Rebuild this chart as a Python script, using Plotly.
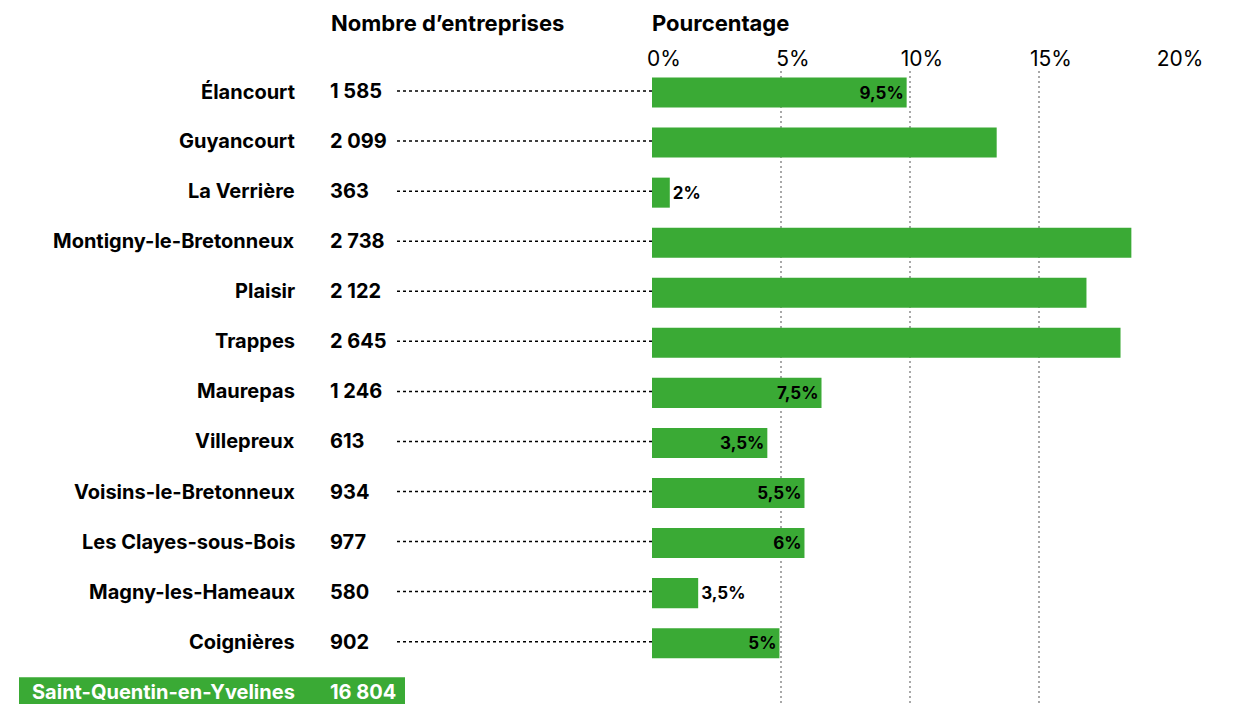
import plotly.graph_objects as go

# Données
communes = ["Élancourt", "Guyancourt", "La Verrière", "Montigny-le-Bretonneux",
            "Plaisir", "Trappes", "Maurepas", "Villepreux",
            "Voisins-le-Bretonneux", "Les Clayes-sous-Bois",
            "Magny-les-Hameaux", "Coignières"]
entreprises = ["1 585", "2 099", "363", "2 738", "2 122", "2 645",
               "1 246", "613", "934", "977", "580", "902"]
pourcentage = [9.87, 13.36, 0.69, 18.58, 16.84, 18.16,
               6.57, 4.47, 5.91, 5.91, 1.79, 4.94]
etiquettes = ["9,5%", "", "2%", "", "", "", "7,5%", "3,5%", "5,5%", "6%", "3,5%", "5%"]
total_nom = "Saint-Quentin-en-Yvelines"
total_entreprises = "16 804"
ticks = [0, 5, 10, 15, 20]

VERT = "#3aaa35"
FONT = "Inter"

# the page body has an 8px margin, so the figure is shifted by that much
PAD = 8
W, H = 1235 - PAD, 704 - PAD
X0, X1 = 652, 1168   # plot area in page pixels


def px(x):
    # page pixel -> paper coordinate
    return (x - X0) / (X1 - X0)


rows = communes + [total_nom]
positions = ["outside" if v < 3 else "inside" for v in pourcentage]

fig = go.Figure()

fig.add_trace(go.Bar(
    y=communes,
    x=pourcentage,
    orientation="h",
    width=0.6,
    offset=-0.27,
    marker=dict(color=VERT, line=dict(width=0)),
    text=etiquettes,
    textposition=positions,
    insidetextanchor="end",
    textfont=dict(family=FONT, size=17, color="black", weight="bold"),
    constraintext="none",
    cliponaxis=False,
    hoverinfo="skip",
))

annotations = []
shapes = []

# column headers
for txt, x in [("Nombre d’entreprises", 329), ("Pourcentage", 650)]:
    annotations.append(dict(text=txt, x=px(x), y=1.0, xref="paper", yref="paper",
                            xanchor="left", yanchor="bottom", yshift=33, showarrow=False,
                            font=dict(family=FONT, size=22, color="black", weight="bold")))

for nom, n in zip(communes, entreprises):
    annotations.append(dict(text=nom, x=px(297), y=nom, xref="paper", yref="y",
                            xanchor="right", yanchor="middle", showarrow=False,
                            font=dict(family=FONT, size=20, color="black", weight="bold")))
    annotations.append(dict(text=n, x=px(328), y=nom, xref="paper", yref="y",
                            xanchor="left", yanchor="middle", showarrow=False,
                            font=dict(family=FONT, size=20, color="black", weight="bold")))
    shapes.append(dict(type="line", xref="paper", yref="y", x0=px(397), x1=0,
                       y0=nom, y1=nom, line=dict(color="black", width=1.5, dash="dot"),
                       layer="below"))

# total row, highlighted
shapes.append(dict(type="rect", xref="paper", yref="y", x0=px(19), x1=px(405),
                   y0=12 - 0.29, y1=12 + 0.4, fillcolor=VERT, line=dict(width=0),
                   layer="below"))
annotations.append(dict(text=total_nom, x=px(297), y=total_nom, xref="paper", yref="y",
                        xanchor="right", yanchor="middle", showarrow=False,
                        font=dict(family=FONT, size=20, color="white", weight="bold")))
annotations.append(dict(text=total_entreprises, x=px(328), y=total_nom, xref="paper", yref="y",
                        xanchor="left", yanchor="middle", showarrow=False,
                        font=dict(family=FONT, size=20, color="white", weight="bold")))

fig.update_layout(
    width=W, height=H,
    margin=dict(l=X0 - PAD, r=W - (X1 - PAD), t=71 - PAD, b=0, autoexpand=False),
    paper_bgcolor="white",
    plot_bgcolor="white",
    showlegend=False,
    annotations=annotations,
    shapes=shapes,
    xaxis=dict(
        range=[0, 20],
        side="top",
        tickvals=ticks,
        ticktext=[f"{t}%" for t in ticks],
        tickfont=dict(family=FONT, size=21, color="black"),
        ticklabelshift=12,
        ticklabelstandoff=0,
        showgrid=True,
        gridcolor="#a8a8a8",
        gridwidth=1.8,
        griddash="2px,3px",
        zeroline=False,
        showline=False,
        ticks="",
        fixedrange=True,
    ),
    yaxis=dict(
        categoryorder="array",
        categoryarray=rows,
        range=[12.245, -0.4],
        showticklabels=False,
        showgrid=False,
        zeroline=False,
        fixedrange=True,
    ),
)

fig.write_html("out.html")
